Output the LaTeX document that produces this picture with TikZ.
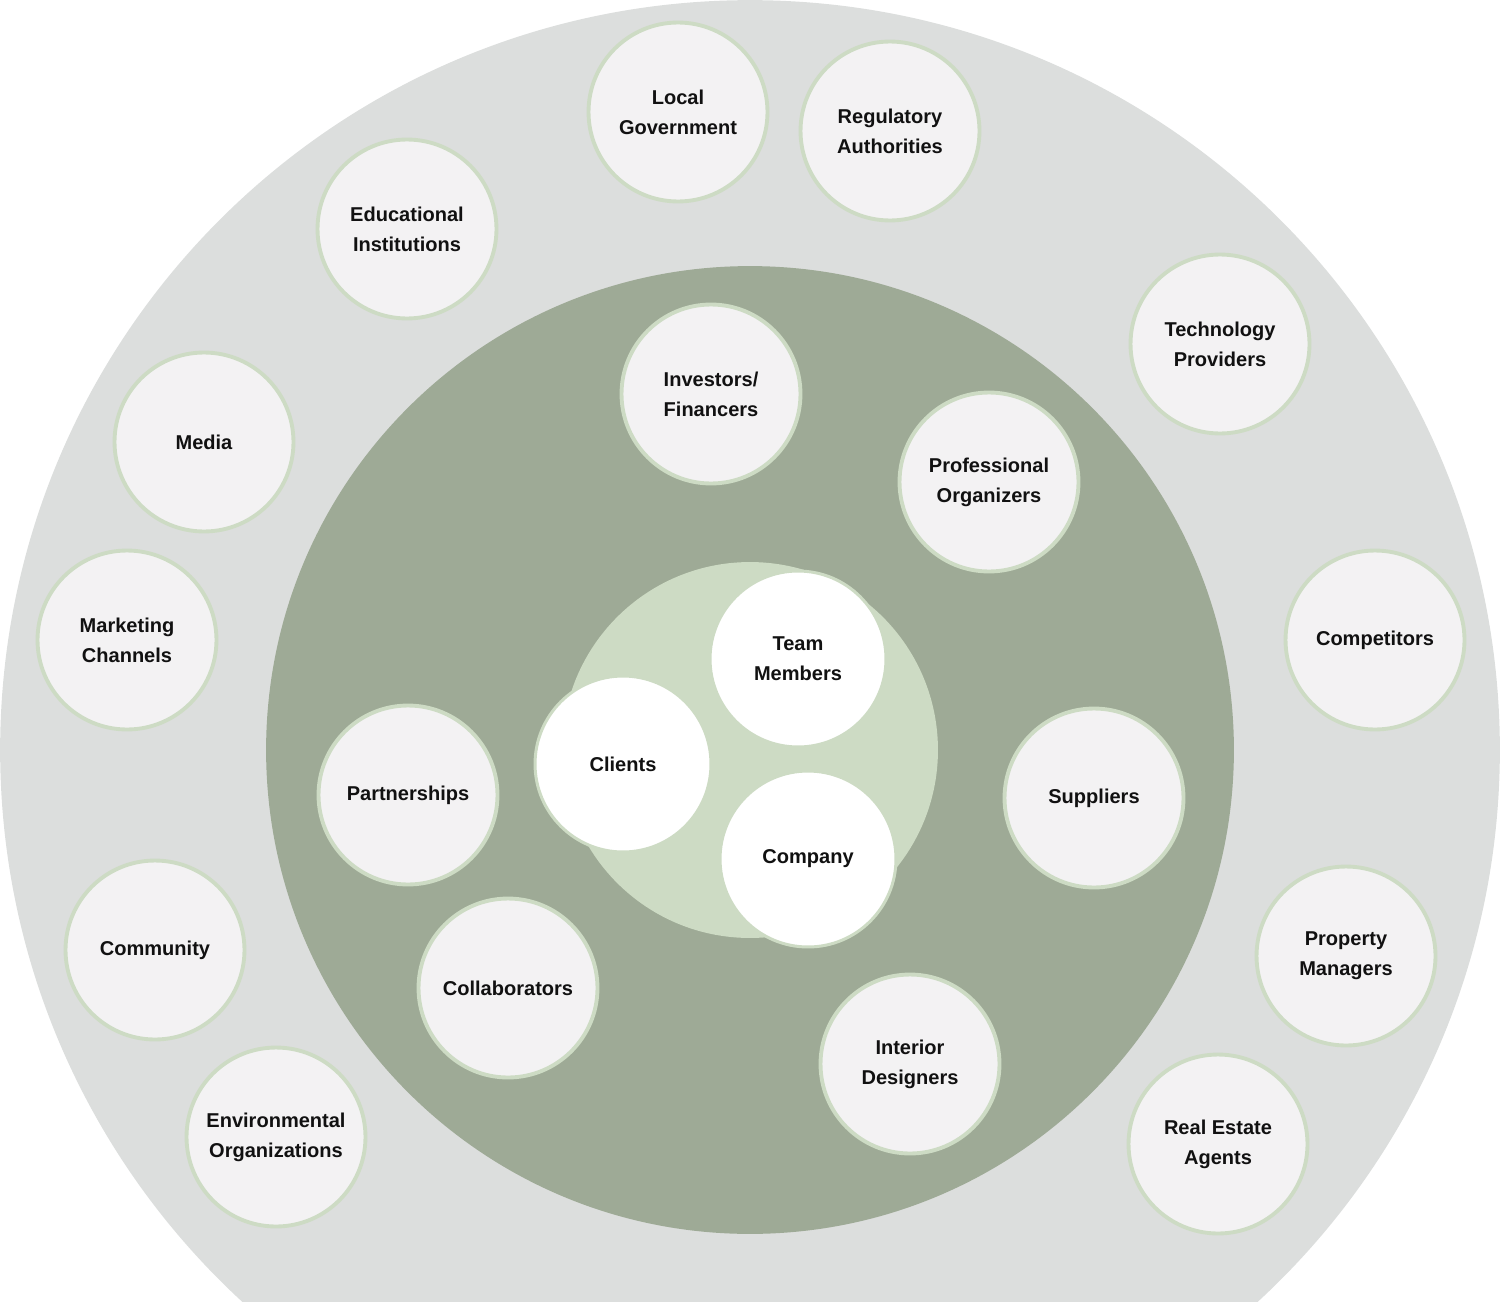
\documentclass[tikz,border=0pt]{standalone}
\usepackage{fontspec}
\setmainfont{Liberation Sans}
\usepackage{xcolor}
\definecolor{ringgray}{HTML}{DCDEDD}
\definecolor{midsage}{HTML}{9EAA96}
\definecolor{palesage}{HTML}{CDDBC4}
\definecolor{bubblefill}{HTML}{F3F2F3}
\definecolor{inktext}{HTML}{111111}

\begin{document}
\begin{tikzpicture}[
    x=0.02cm, y=-0.02cm,
    bubble/.style={circle, draw=palesage, line width=2.2pt, fill=bubblefill,
                   minimum size=3.58cm, inner sep=0pt, align=center, text=inktext,
                   font=\fontsize{11.4}{17}\selectfont\bfseries},
    core/.style={bubble, fill=white, line width=1.7pt, minimum size=3.52cm}
]
\useasboundingbox (0,0) rectangle (1500,1301);
\clip (0,0) rectangle (1500,1301);
% rings
\fill[ringgray] (750,750) circle[radius=15cm];
\fill[midsage] (750,750) circle[radius=9.68cm];
\fill[palesage] (750,750) circle[radius=3.76cm];
% outer ring
\node[bubble] (localgov) at (678,112) {Local\\Government};
\node[bubble] (regulatory) at (890,131) {Regulatory\\Authorities};
\node[bubble] (education) at (407,229) {Educational\\Institutions};
\node[bubble] (technology) at (1220,344) {Technology\\Providers};
\node[bubble] (media) at (204,442) {Media};
\node[bubble] (marketing) at (127,640) {Marketing\\Channels};
\node[bubble] (competitors) at (1375,640) {Competitors};
\node[bubble] (community) at (155,950) {Community};
\node[bubble] (property) at (1346,956) {Property\\Managers};
\node[bubble] (environment) at (276,1137) {Environmental\\Organizations};
\node[bubble] (realestate) at (1218,1144) {Real Estate\\Agents};
% middle ring
\node[bubble] (investors) at (711,394) {Investors/\\Financers};
\node[bubble] (organizers) at (989,482) {Professional\\Organizers};
\node[bubble] (partnerships) at (408,795) {Partnerships};
\node[bubble] (suppliers) at (1094,798) {Suppliers};
\node[bubble] (collaborators) at (508,988) {Collaborators};
\node[bubble] (designers) at (910,1064) {Interior\\Designers};
% core
\node[core] (team) at (798,659) {Team\\Members};
\node[core] (clients) at (623,764) {Clients};
\node[core] (company) at (808,859) {Company};
\end{tikzpicture}
\end{document}
